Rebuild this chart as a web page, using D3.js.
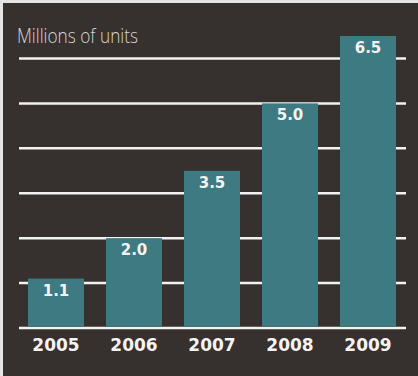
<!DOCTYPE html>
<html>
<head>
<meta charset="utf-8">
<script src="https://cdn.jsdelivr.net/npm/d3@7"></script>
<style>
  html, body { margin: 0; padding: 0; background: #e6e4e4; }
  svg { display: block; }
</style>
</head>
<body>
<script>
// Annual unit sales, millions
const years = ["2005", "2006", "2007", "2008", "2009"];
const units = [1.1, 2.0, 3.5, 5.0, 6.5];
const gridValues = [0, 1, 2, 3, 4, 5, 6];
const valueLabels = ["1.1", "2.0", "3.5", "5.0", "6.5"];
const titleText = "Millions of units";

const W = 418, H = 376;
const svg = d3.select("body").append("svg").attr("width", W).attr("height", H);

// dark panel
svg.append("rect").attr("x", 3).attr("y", 3).attr("width", W - 3).attr("height", H - 3)
  .attr("fill", "#36302e");

const x = d3.scaleBand().domain(years).range([17, 407])
  .paddingInner(0.282).paddingOuter(0.141);
const y = d3.scaleLinear().domain([0, 6.5]).range([328, 36]);

// horizontal rules
svg.append("g").selectAll("line").data(gridValues).join("line")
  .attr("x1", 19).attr("x2", 406)
  .attr("y1", d => y(d)).attr("y2", d => y(d))
  .attr("stroke", "#f2f2f2").attr("stroke-width", 2.5);

// bars
svg.append("g").selectAll("rect").data(units).join("rect")
  .attr("x", (d, i) => x(years[i]))
  .attr("width", x.bandwidth())
  .attr("y", d => y(d))
  .attr("height", d => y(0) - y(d) - 1.25)
  .attr("fill", "#3e7a81");

// values inside bars
svg.append("g").selectAll("text").data(units).join("text")
  .attr("x", (d, i) => x(years[i]) + x.bandwidth() / 2)
  .attr("y", d => y(d) + 17)
  .attr("text-anchor", "middle")
  .attr("font-family", "DejaVu Sans")
  .attr("font-weight", "bold")
  .attr("font-size", 15)
  .attr("fill", "#f4f4f4")
  .text((d, i) => valueLabels[i]);

// year axis
const xAxis = svg.append("g").attr("transform", `translate(0,${y(0)})`)
  .call(d3.axisBottom(x).tickSize(0).tickPadding(23));
xAxis.select(".domain").remove();
xAxis.selectAll("text")
  .attr("font-family", "DejaVu Sans")
  .attr("font-weight", "bold")
  .attr("font-size", 17)
  .attr("fill", "#f4f4f4")
  .attr("dy", 0);

// unit caption
svg.append("text")
  .attr("x", 17).attr("y", 43)
  .attr("font-family", "Open Sans")
  .attr("font-weight", 300)
  .attr("font-size", 21)
  .attr("textLength", 121)
  .attr("lengthAdjust", "spacingAndGlyphs")
  .attr("fill", "#d6d4d3")
  .text(titleText);
</script>
</body>
</html>
